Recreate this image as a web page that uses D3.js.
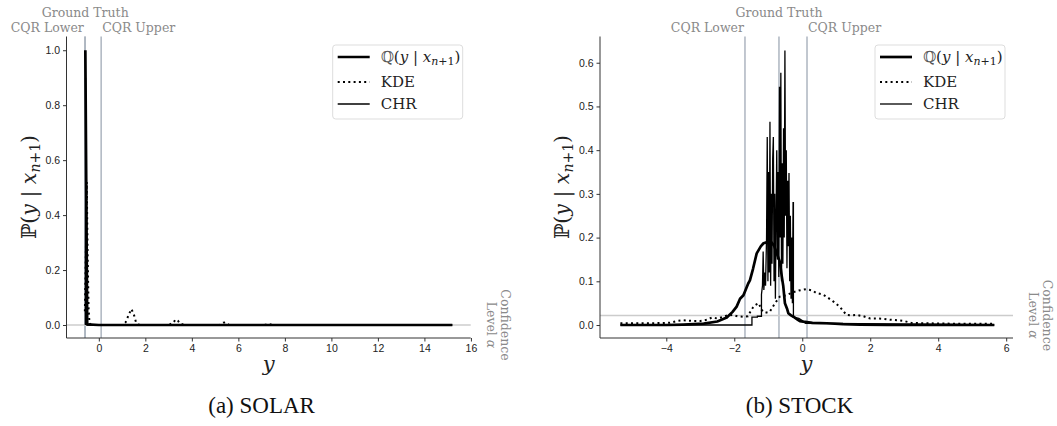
<!DOCTYPE html>
<html><head><meta charset="utf-8">
<script src="https://cdn.jsdelivr.net/npm/d3@7"></script>
<style>
body{margin:0;background:#fff;}
.tick text{font-family:"Liberation Sans",Arial,sans-serif;font-size:10.5px;fill:#222;}
.tick line{stroke:#333;}
.domain{stroke:#333;}
</style></head><body>
<svg id="c" width="1057" height="426"></svg>
<script>
// ---------- SOLAR data ----------
const solarQx = [-0.58, -0.5, 0, 2, 4, 6, 8, 10, 12, 14, 15.2];
const solarQy = [1.0, 0.002, 0, 0, 0, 0, 0, 0, 0, 0, 0];
const solarKx = [-0.6,-0.55,-0.52,-0.48,-0.44,-0.4,-0.3,0,1.0,1.15,1.3,1.4,1.5,1.6,1.75,3.0,3.2,3.3,3.4,3.5,3.7,5.2,5.35,5.45,5.6,7.1,7.3,7.5,15.2];
const solarKy = [0.05,0.3,0.52,0.25,0.06,0.005,0,0,0,0.01,0.04,0.058,0.04,0.01,0,0,0.008,0.02,0.015,0.005,0,0,0.008,0.01,0,0,0.004,0,0];
const solarCx = [-0.58,-0.57,-0.55,-0.5,15.2];
const solarCy = [0,0.9,0.02,0,0];
const solarLines = {lower:-0.6, truth:-0.586, upper:0.1, alpha:0.0};
const solarXTicks = [0,2,4,6,8,10,12,14,16];
const solarYTicks = [0,0.2,0.4,0.6,0.8,1.0];

// ---------- STOCK data ----------
const stockQx = [-5.35,-4,-3.5,-2.9,-2.5,-2.22,-2.05,-1.93,-1.83,-1.73,-1.59,-1.54,-1.45,-1.34,-1.22,-1.14,-1.05,-0.9,-0.82,-0.75,-0.66,-0.6,-0.56,-0.51,-0.45,-0.41,-0.33,-0.26,-0.15,-0.07,0.03,0.3,0.72,1.2,1.7,2.5,3.5,4.5,5.65];
const stockQy = [0,0,0.001,0.003,0.008,0.017,0.03,0.042,0.06,0.068,0.095,0.102,0.128,0.164,0.18,0.187,0.189,0.189,0.18,0.164,0.145,0.11,0.09,0.05,0.038,0.027,0.022,0.019,0.013,0.009,0.0076,0.005,0.004,0.002,0.001,0.0005,0.0003,0.0002,0];
const stockKx = [-5.35,-4.5,-3.9,-3.7,-3.5,-3.2,-3.0,-2.8,-2.66,-2.5,-2.35,-2.2,-2.05,-1.9,-1.73,-1.6,-1.53,-1.45,-1.38,-1.28,-1.2,-1.1,-0.96,-0.88,-0.8,-0.66,-0.47,-0.27,-0.1,0.12,0.3,0.42,0.6,0.71,0.91,1.1,1.3,1.45,1.6,1.8,2.0,2.2,2.4,2.6,2.8,3.0,3.2,3.6,4.5,5.65];
const stockKy = [0.004,0.004,0.005,0.009,0.011,0.009,0.009,0.012,0.017,0.015,0.018,0.022,0.023,0.02,0.019,0.02,0.03,0.04,0.046,0.05,0.035,0.028,0.03,0.04,0.05,0.065,0.068,0.075,0.079,0.082,0.079,0.073,0.07,0.065,0.054,0.042,0.023,0.022,0.023,0.02,0.015,0.015,0.014,0.012,0.011,0.009,0.005,0.004,0.003,0.003];
const stockCx = [-5.35,-1.48,-1.48,-1.32,-1.32,-1.2,-1.2,-1.17,-1.15,-1.13,-1.1,-1.08,-1.05,-1.03,-1.01,-0.99,-0.97,-0.95,-0.93,-0.91,-0.89,-0.87,-0.85,-0.83,-0.81,-0.79,-0.77,-0.75,-0.73,-0.71,-0.69,-0.67,-0.65,-0.63,-0.61,-0.59,-0.57,-0.55,-0.53,-0.51,-0.49,-0.47,-0.45,-0.43,-0.41,-0.39,-0.37,-0.35,-0.33,-0.31,-0.29,-0.27,-0.26,-0.26,-0.1,0.0,0.1,5.65];
const stockCy = [0,0,0.018,0.018,0.02,0.02,0.07,0.09,0.168,0.08,0.12,0.09,0.2,0.43,0.1,0.35,0.12,0.465,0.09,0.3,0.14,0.38,0.43,0.1,0.3,0.06,0.25,0.4,0.15,0.35,0.11,0.545,0.2,0.577,0.1,0.37,0.14,0.45,0.2,0.628,0.25,0.4,0.13,0.33,0.18,0.348,0.1,0.25,0.06,0.2,0.05,0.28,0.28,0.018,0.015,0.01,0.004,0];
const stockLines = {lower:-1.685, truth:-0.685, upper:0.14, alpha:0.022};
const stockXTicks = [-4,-2,0,2,4,6];
const stockYTicks = [0,0.1,0.2,0.3,0.4,0.5,0.6];

const svg = d3.select("#c");
const grayV = "#adb5c0", grayH = "#cccccc", labGray = "#8a8a8a";
const serif = "'DejaVu Serif', serif";

function panel(cfg){
  const x = d3.scaleLinear(cfg.xdom, cfg.xr);
  const y = d3.scaleLinear(cfg.ydom, [338, 36.5]);
  const g = svg.append("g");
  const top = y.range()[1], bot = y.range()[0];
  [cfg.lines.lower, cfg.lines.truth, cfg.lines.upper].forEach(v=>{
    g.append("line").attr("x1",x(v)).attr("x2",x(v)).attr("y1",top).attr("y2",bot)
     .attr("stroke",grayV).attr("stroke-width",1.5);
  });
  g.append("line").attr("x1",cfg.xr[0]).attr("x2",cfg.xr[1]).attr("y1",y(cfg.lines.alpha)).attr("y2",y(cfg.lines.alpha))
   .attr("stroke",grayH).attr("stroke-width",1.5);
  const ax = g.append("g").attr("transform",`translate(0,${bot})`)
    .call(d3.axisBottom(x).tickValues(cfg.xticks).tickSize(3.5).tickSizeOuter(0).tickPadding(3)
      .tickFormat(d=>d3.format("d")(d).replace("-","\u2212")));
  const ay = g.append("g").attr("transform",`translate(${cfg.xr[0]},0)`)
    .call(d3.axisLeft(y).tickValues(cfg.yticks).tickSize(3.5).tickSizeOuter(0).tickPadding(3).tickFormat(d3.format(".1f")));
  ax.select(".domain").attr("d",`M${cfg.xr[0]},0H${cfg.xr[1]}`);
  ay.select(".domain").attr("d",`M0,${bot}V${top}`);
  const line = d3.line().x(d=>x(d[0])).y(d=>y(d[1]));
  const zip = (a,b)=>a.map((v,i)=>[v,b[i]]);
  g.append("path").datum(zip(cfg.cx,cfg.cy)).attr("d",line).attr("fill","none").attr("stroke","#000").attr("stroke-width",1.3);
  g.append("path").datum(zip(cfg.kx,cfg.ky)).attr("d",line).attr("fill","none").attr("stroke","#000").attr("stroke-width",2).attr("stroke-dasharray","2,3.3");
  g.append("path").datum(zip(cfg.qx,cfg.qy)).attr("d",line).attr("fill","none").attr("stroke","#000").attr("stroke-width",2.7).attr("stroke-linejoin","round");
  const lab = (t,xx,yy,anchor)=>g.append("text").attr("x",xx).attr("y",yy).attr("text-anchor",anchor)
      .attr("font-family",serif).attr("font-size",12.5).attr("fill",labGray).text(t);
  lab("Ground Truth", x(cfg.lines.truth), 17, "middle");
  lab("CQR Lower", x(cfg.lines.lower)-1, 32, "end");
  lab("CQR Upper", x(cfg.lines.upper)+1, 32, "start");
  const cl = g.append("text").attr("transform",`translate(${cfg.xr[1]+13},${y(cfg.lines.alpha)}) rotate(90)`)
     .attr("font-family",serif).attr("font-size",12.5).attr("fill",labGray).attr("text-anchor","middle");
  cl.append("tspan").attr("x",0).attr("dy",-17).text("Confidence");
  cl.append("tspan").attr("x",0).attr("dy",14).text("Level ");
  cl.append("tspan").attr("font-style","italic").text("\u03b1");
  const yl = g.append("text").attr("transform",`translate(${cfg.xr[0]-31},${187}) rotate(-90)`)
     .attr("font-family",serif).attr("font-size",20.5).attr("fill","#222").attr("text-anchor","middle");
  yl.append("tspan").text("\u2119(");
  yl.append("tspan").attr("font-style","italic").text("y");
  yl.append("tspan").text(" | ");
  yl.append("tspan").attr("font-style","italic").text("x");
  yl.append("tspan").attr("font-style","italic").attr("font-size",14).attr("dy",4).text("n");
  yl.append("tspan").attr("font-size",14).text("+1");
  yl.append("tspan").attr("dy",-4).text(")");
  g.append("text").attr("x",(cfg.xr[0]+cfg.xr[1])/2).attr("y",371).attr("text-anchor","middle")
   .attr("font-family",serif).attr("font-style","italic").attr("font-size",21).attr("fill","#222").text("y");
  g.append("text").attr("x",(cfg.xr[0]+cfg.xr[1])/2-7).attr("y",413).attr("text-anchor","middle")
   .attr("font-family","'Liberation Serif','Times New Roman',serif").attr("font-size",23).attr("fill","#111").text(cfg.caption);
  const lx = cfg.xr[1]-138, ly = 45;
  const lg = g.append("g");
  lg.append("rect").attr("x",lx).attr("y",ly).attr("width",130).attr("height",74).attr("rx",3)
    .attr("fill","#fff").attr("stroke","#dddddd").attr("stroke-width",1);
  const rows = [{y:57,w:2.7,da:null},{y:82,w:2,da:"2,3.3"},{y:104,w:1.3,da:null}];
  rows.forEach(r=>{
    const l = lg.append("line").attr("x1",lx+5).attr("x2",lx+37).attr("y1",r.y).attr("y2",r.y)
      .attr("stroke","#000").attr("stroke-width",r.w);
    if(r.da) l.attr("stroke-dasharray",r.da);
  });
  const t1 = lg.append("text").attr("x",lx+48).attr("y",62).attr("font-family",serif).attr("font-size",15).attr("fill","#222");
  t1.append("tspan").attr("fill","#555").text("\u211a");
  t1.append("tspan").text("(");
  t1.append("tspan").attr("font-style","italic").text("y");
  t1.append("tspan").text(" | ");
  t1.append("tspan").attr("font-style","italic").text("x");
  t1.append("tspan").attr("font-style","italic").attr("font-size",11).attr("dy",3).text("n");
  t1.append("tspan").attr("font-size",11).text("+1");
  t1.append("tspan").attr("dy",-3).text(")");
  lg.append("text").attr("x",lx+48).attr("y",87).attr("font-family",serif).attr("font-size",15).attr("fill","#222").text("KDE");
  lg.append("text").attr("x",lx+48).attr("y",109).attr("font-family",serif).attr("font-size",15).attr("fill","#222").text("CHR");
}

panel({xdom:[-1.39,15.99], xr:[66.5,470.7], ydom:[-0.0473,1.05], xticks:solarXTicks, yticks:solarYTicks,
  qx:solarQx, qy:solarQy, kx:solarKx, ky:solarKy, cx:solarCx, cy:solarCy, lines:solarLines, caption:"(a) SOLAR"});
panel({xdom:[-5.95,6.2], xr:[600,1013], ydom:[-0.0297,0.66], xticks:stockXTicks, yticks:stockYTicks,
  qx:stockQx, qy:stockQy, kx:stockKx, ky:stockKy, cx:stockCx, cy:stockCy, lines:stockLines, caption:"(b) STOCK"});
</script></body></html>
